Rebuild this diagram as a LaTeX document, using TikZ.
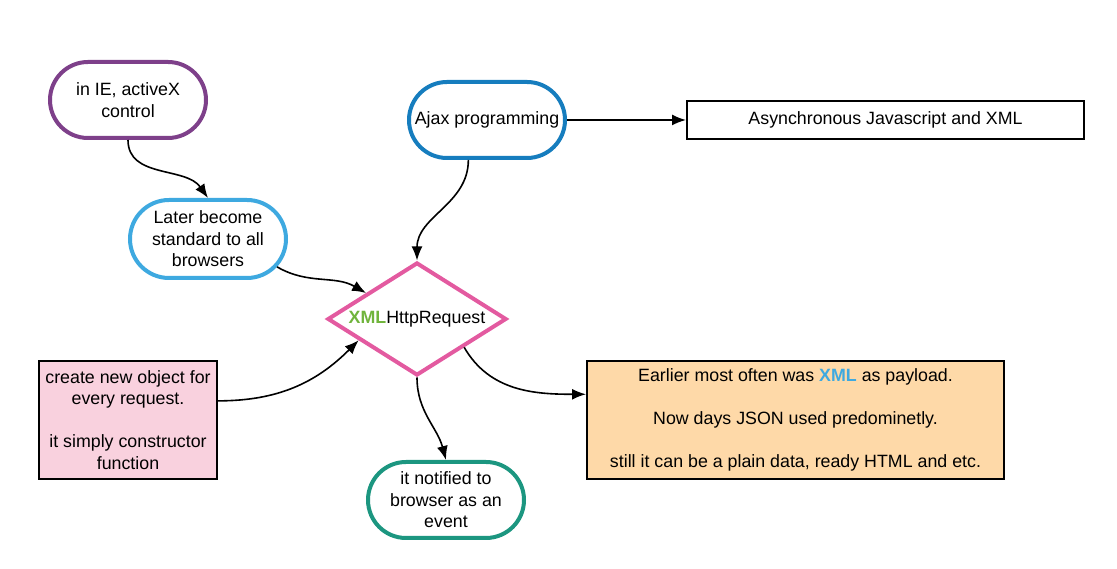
\documentclass[tikz,border=0pt]{standalone}
\usepackage{fontspec}
\setmainfont{Liberation Sans}
\usetikzlibrary{shapes.misc,shapes.geometric,arrows.meta}
\definecolor{cpurple}{RGB}{126,64,138}
\definecolor{clblue}{RGB}{62,169,224}
\definecolor{cdblue}{RGB}{22,125,190}
\definecolor{cpink}{RGB}{227,90,160}
\definecolor{cgreen}{RGB}{28,150,128}
\definecolor{cpinkfill}{RGB}{249,209,222}
\definecolor{corange}{RGB}{254,217,168}
\definecolor{cxmlgreen}{RGB}{112,180,60}
\begin{document}
\begin{tikzpicture}[x=1pt,y=1pt,
  font=\fontsize{17.8}{21.5}\selectfont,
  pill/.style={rounded rectangle, draw, line width=4pt, fill=white, align=center,
    minimum width=156pt, minimum height=76pt, inner sep=0pt},
  box/.style={rectangle, draw=black, line width=2pt, align=center, inner sep=0pt},
  conn/.style={line width=1.6pt, -{Latex[length=14pt,width=11pt]}}
]
\useasboundingbox (0,0) rectangle (1117,569);
\node[pill, draw=cpurple] (ie) at (128,469) {in IE, activeX\\control};
\node[pill, draw=clblue, minimum height=78pt] (later) at (208,330) {Later become\\standard to all\\browsers};
\node[pill, draw=cdblue] (ajax) at (487,449) {Ajax programming};
\node[box, minimum width=397pt, minimum height=38pt] (asyn) at (885.5,449) {Asynchronous Javascript and XML};
\node[diamond, aspect=1.6, draw=cpink, line width=4pt, minimum width=179pt, minimum height=113pt, inner sep=0pt] (dia) at (417,250)
  {\textcolor{cxmlgreen}{\bfseries XML}HttpRequest};
\node[box, fill=cpinkfill, minimum width=178pt, minimum height=118pt] (obj) at (128,149)
  {create new object for\\every request.\\[21.5pt]it simply constructor\\function};
\node[pill, draw=cgreen] (event) at (446,69) {it notified to\\browser as an\\event};
\node[box, fill=corange, minimum width=417pt, minimum height=118pt] (payload) at (795.5,149)
  {Earlier most often was \textcolor{clblue}{\bfseries XML} as payload.\\[21.5pt]Now days JSON used predominetly.\\[21.5pt]still it can be a plain data, ready HTML and etc.};

\draw[conn] (ie.-90) to[out=-90,in=125] (later.north);
\draw[conn] (later.-22) to[out=-30,in=150] (dia.153);
\draw[conn] (ajax.-115) to[out=-90,in=90] (dia.north);
\draw[conn] (ajax.east) -- (asyn.west);
\draw[conn] (obj.12.5) to[out=0,in=225] (dia.200);
\draw[conn] (dia.-31) to[out=-60,in=180] (payload.173);
\draw[conn] (dia.south) to[out=-90,in=105] (event.north);
\end{tikzpicture}
\end{document}
